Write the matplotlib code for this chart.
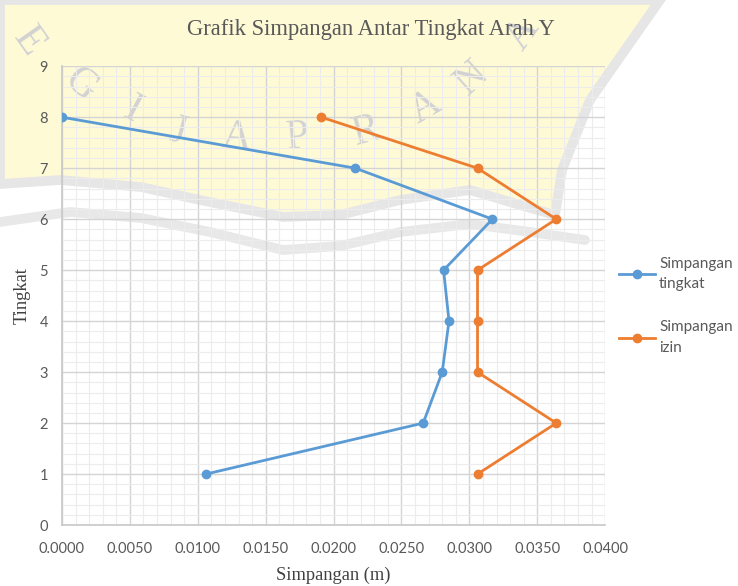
import matplotlib.pyplot as plt
from matplotlib.ticker import MultipleLocator, FormatStrFormatter
from matplotlib.patches import Polygon
from matplotlib.lines import Line2D

# storey levels and drifts
tingkat = [8, 7, 6, 5, 4, 3, 2, 1]
simpangan_tingkat = [0.0000, 0.0216, 0.0317, 0.0281, 0.0285, 0.0280, 0.0266, 0.0106]
simpangan_izin = [0.0191, 0.0306, 0.0364, 0.0306, 0.0306, 0.0306, 0.0364, 0.0306]

blue = '#5B9BD5'
orange = '#ED7D31'
tick_grey = '#595959'

W, H = 738, 586
fig = plt.figure(figsize=(W / 100, H / 100), dpi=100)


def to_fig(pts):
    return [(x / W, 1 - y / H) for x, y in pts]


# faint watermark behind the chart (outline in pixels)
wm_px = [(0, 0), (660, 0), (590, 100), (562, 170), (555, 215), (520, 205),
         (470, 190), (400, 200), (340, 215), (283, 217), (200, 200),
         (141, 187), (60, 180), (0, 184)]
fig.patches.append(Polygon(to_fig(wm_px), closed=True, transform=fig.transFigure,
                           facecolor='#FFFAD6', edgecolor='#E6E6E6',
                           linewidth=7, zorder=0))
wave_px = [(0, 222), (70, 212), (141, 218), (210, 232), (283, 250), (340, 246),
           (400, 232), (470, 224), (530, 232), (585, 240)]
wx, wy = zip(*to_fig(wave_px))
fig.add_artist(Line2D(wx, wy, transform=fig.transFigure, color='#E8E8E8',
                      lw=7, solid_capstyle='round', zorder=0))

wm_letters = [('E', 28, 42, -55), ('G', 80, 85, -40), ('I', 132, 110, -28),
              ('J', 178, 132, -15), ('A', 236, 138, -5), ('P', 297, 138, 5),
              ('R', 366, 132, 15), ('A', 425, 108, 30), ('N', 472, 78, 42),
              ('A', 523, 34, 55)]
for ch, px, py, rot in wm_letters:
    fig.text(px / W, 1 - py / H, ch, family='Liberation Serif', fontsize=30,
             color='#D2D2D2', rotation=rot, ha='center', va='center', zorder=0.5)

ax = fig.add_axes([0.084, 0.104, 0.736, 0.783])
ax.set_zorder(1)
ax.patch.set_alpha(0)

ax.plot(simpangan_tingkat, tingkat, color=blue, lw=2, marker='o', ms=6,
        label='Simpangan\ntingkat', zorder=3)
ax.plot(simpangan_izin, tingkat, color=orange, lw=2, marker='o', ms=6,
        label='Simpangan\nizin', zorder=3)

ax.set_xlim(0, 0.04)
ax.set_ylim(0, 9)
ax.xaxis.set_major_locator(MultipleLocator(0.005))
ax.xaxis.set_minor_locator(MultipleLocator(0.001))
ax.yaxis.set_major_locator(MultipleLocator(1))
ax.yaxis.set_minor_locator(MultipleLocator(0.2))
ax.xaxis.set_major_formatter(FormatStrFormatter('%.4f'))

ax.grid(which='major', color='#D4D4D4', lw=1)
ax.grid(which='minor', color='#ECECEC', lw=0.8)
ax.set_axisbelow(True)

for side in ['top', 'right']:
    ax.spines[side].set_visible(False)
for side in ['left', 'bottom']:
    ax.spines[side].set_color('#C8C8C8')
    ax.spines[side].set_linewidth(1.2)

ax.tick_params(which='both', length=0)
ax.tick_params(axis='x', pad=12, labelsize=10.5, labelcolor=tick_grey)
ax.tick_params(axis='y', pad=10, labelsize=10.5, labelcolor=tick_grey)
for lab in ax.get_xticklabels() + ax.get_yticklabels():
    lab.set_family('Lato')

ax.set_xlabel('Simpangan (m)', family='Liberation Serif', fontsize=13.3,
              color='#404040', labelpad=8)
ax.set_ylabel('Tingkat', family='Liberation Serif', fontsize=13.3,
              color='#404040', labelpad=6)
fig.suptitle('Grafik Simpangan Antar Tingkat Arah Y', family='Liberation Serif',
             fontsize=16.3, color='#595959', x=0.503, y=0.968)

leg = fig.legend(loc='upper left', bbox_to_anchor=(0.829, 0.575), frameon=False,
                 borderpad=0, handlelength=2.3, handletextpad=0.3,
                 labelspacing=1.9, prop={'family': 'Lato', 'size': 11})
for t in leg.get_texts():
    t.set_color(tick_grey)
    t.set_linespacing(1.6)

fig.savefig('out.png', dpi=100)
